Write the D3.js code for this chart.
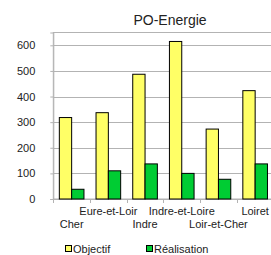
<!DOCTYPE html>
<html>
<head>
<meta charset="utf-8">
<script src="https://cdn.jsdelivr.net/npm/d3@7"></script>
<style>
  body { margin: 0; background: #fff; }
  svg { display: block; font-family: "Liberation Sans", Arial, sans-serif; }
</style>
</head>
<body>
<div id="chart"></div>
<script>
const categories = ["Cher", "Eure-et-Loir", "Indre", "Indre-et-Loire", "Loir-et-Cher", "Loiret"];
const objectif = [318, 337, 487, 615, 273, 423];
const realisation = [38, 110, 137, 100, 77, 137];
const yTicks = [0, 100, 200, 300, 400, 500, 600];

const series = [
    { key: "objectif", name: "Objectif", values: objectif, color: "#ffff66" },
    { key: "realisation", name: "Réalisation", values: realisation, color: "#00cc33" }
];

const width = 271;
const height = 255;
const plot = { left: 53.3, right: 273.5, top: 32.5, bottom: 199 };

const svg = d3.select("#chart")
    .append("svg")
    .attr("width", width)
    .attr("height", height);

// scales
const x0 = d3.scaleBand()
    .domain(categories)
    .range([plot.left, plot.right]);

const x1 = d3.scaleBand()
    .domain(series.map(s => s.key))
    .range([0, x0.bandwidth()])
    .paddingOuter(0.49);

const yScale = d3.scaleLinear()
    .domain([0, 650])
    .range([plot.bottom, plot.top]);

// plot frame + gridlines
svg.append("rect")
    .attr("x", plot.left)
    .attr("y", plot.top)
    .attr("width", plot.right - plot.left)
    .attr("height", plot.bottom - plot.top)
    .attr("fill", "none")
    .attr("stroke", "#b3b3b3");

svg.append("g")
    .selectAll("line")
    .data(yTicks)
    .join("line")
        .attr("x1", plot.left)
        .attr("x2", plot.right)
        .attr("y1", d => Math.round(yScale(d)) + 0.5)
        .attr("y2", d => Math.round(yScale(d)) + 0.5)
        .attr("stroke", "#b3b3b3");

// left axis
const leftAxis = d3.axisLeft(yScale)
    .tickValues(yTicks)
    .tickSize(3)
    .tickPadding(15);

svg.append("g")
    .attr("transform", `translate(${plot.left},0)`)
    .call(leftAxis)
    .call(g => g.select(".domain").attr("stroke", "#b3b3b3"))
    .call(g => g.selectAll(".tick line").attr("stroke", "#b3b3b3"))
    .call(g => g.selectAll(".tick text")
        .attr("fill", "#222")
        .style("font-size", "11px")
        .style("font-family", "Liberation Sans, Arial, sans-serif"));

// bottom ticks at band boundaries
svg.append("g")
    .selectAll("line")
    .data(categories.concat(["end"]))
    .join("line")
        .attr("x1", (d, i) => Math.round(plot.left + i * x0.step()) + 0.5)
        .attr("x2", (d, i) => Math.round(plot.left + i * x0.step()) + 0.5)
        .attr("y1", plot.bottom)
        .attr("y2", plot.bottom + 4)
        .attr("stroke", "#b3b3b3");

// bars
series.forEach(s => {
    svg.append("g")
        .selectAll(`.bar-${s.key}`)
        .data(s.values.map((v, i) => ({ cat: categories[i], value: v })))
        .join("rect")
            .attr("class", `bar-${s.key}`)
            .attr("x", d => x0(d.cat) + x1(s.key))
            .attr("y", d => yScale(d.value))
            .attr("width", x1.bandwidth())
            .attr("height", d => plot.bottom - yScale(d.value))
            .attr("fill", s.color)
            .attr("stroke", "#000")
            .attr("stroke-width", 1);
});

// category labels, staggered
svg.append("g")
    .selectAll("text")
    .data(categories)
    .join("text")
        .attr("x", d => x0(d) + x0.bandwidth() / 2)
        .attr("y", (d, i) => i % 2 === 0 ? 228 : 215)
        .attr("text-anchor", "middle")
        .attr("fill", "#222")
        .style("font-size", "11px")
        .text(d => d);

// title
svg.append("text")
    .attr("x", 170)
    .attr("y", 25)
    .attr("text-anchor", "middle")
    .attr("fill", "#222")
    .style("font-size", "14px")
    .text("PO-Energie");

// legend
const legend = svg.append("g")
    .selectAll("g")
    .data(series)
    .join("g")
        .attr("transform", (d, i) => `translate(${65 + i * 81},0)`);

legend.append("rect")
    .attr("x", 0.5)
    .attr("y", 245.5)
    .attr("width", 6)
    .attr("height", 6)
    .attr("fill", d => d.color)
    .attr("stroke", "#000");

legend.append("text")
    .attr("x", 8)
    .attr("y", 253)
    .attr("fill", "#222")
    .style("font-size", "11px")
    .text(d => d.name);
</script>
</body>
</html>
